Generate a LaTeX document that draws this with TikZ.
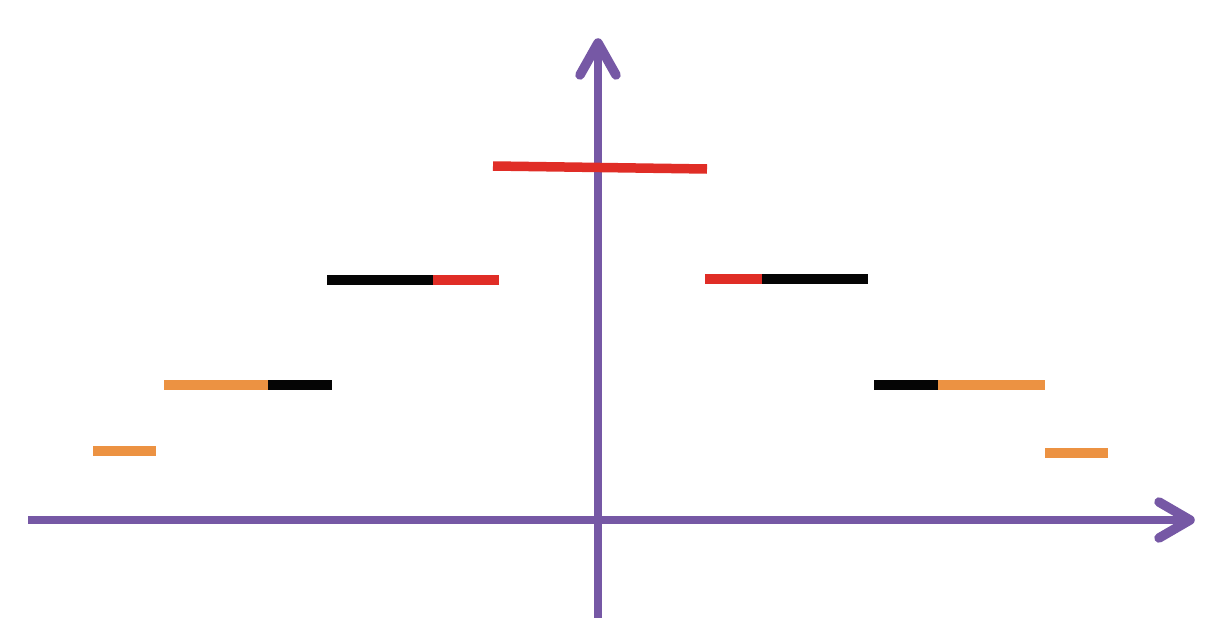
\documentclass[tikz,border=0pt]{standalone}
\usetikzlibrary{arrows.meta}
\definecolor{axpurple}{RGB}{118,88,165}
\definecolor{segred}{RGB}{224,45,38}
\definecolor{segorange}{RGB}{236,146,66}
\definecolor{segblack}{RGB}{5,5,5}
\tikzset{
  axisline/.style={draw=axpurple, line width=8pt},
  axishead/.style={draw=axpurple, line width=9.5pt, line cap=round, line join=round},
  seg/.style={line width=9.5pt, line cap=butt},
}
\begin{document}
\begin{tikzpicture}[x=1pt,y=-1pt]
\useasboundingbox (0,0) rectangle (1227,618);
\fill[white] (0,0) rectangle (1227,618);
% axes
\coordinate (xs) at (28,520);
\coordinate (xe) at (1188,520);
\coordinate (ys) at (598,618);
\coordinate (ye) at (598,46);
\draw[axisline] (xs) -- (xe);
\draw[axisline, line width=7.5pt] (ys) -- (ye);
\draw[axishead] (1159,502) -- (1190,520) -- (1159,538);
\draw[axishead] (580,75) -- (598,43) -- (616,75);
% top red
\draw[seg, segred] (493,166) -- (707,169);
% second row
\draw[seg, segblack] (327,280) -- (433.5,280);
\draw[seg, segred] (433,280) -- (499,280);
\draw[seg, segred] (705,279) -- (762.5,279);
\draw[seg, segblack] (762,279) -- (868,279);
% third row
\draw[seg, segorange] (164,385) -- (268.5,385);
\draw[seg, segblack] (268,385) -- (332,385);
\draw[seg, segblack] (874,385) -- (938.5,385);
\draw[seg, segorange] (938,385) -- (1045,385);
% bottom row
\draw[seg, segorange] (93,451) -- (156,451);
\draw[seg, segorange] (1045,453) -- (1108,453);
\end{tikzpicture}
\end{document}
